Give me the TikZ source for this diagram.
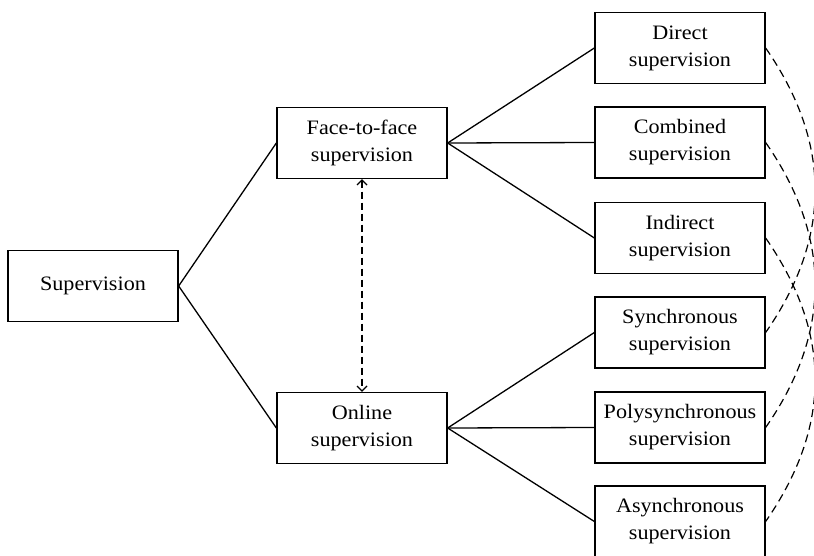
\documentclass[tikz,border=0pt]{standalone}
\usepackage{fontspec}
\setmainfont{Liberation Serif}[FakeStretch=1.08]
\usetikzlibrary{arrows.meta,calc}
\begin{document}
\begin{tikzpicture}[x=1pt,y=-1pt,
  box/.style={draw, line width=1.3pt, minimum width=170pt, minimum height=71pt,
    align=center, inner sep=0pt, font=\fontsize{20.5}{27}\selectfont},
  link/.style={line width=1.3pt},
  dlink/.style={line width=1.2pt, dash pattern=on 8pt off 5pt},
  varrow/.style={line width=1.2pt, dash pattern=on 7pt off 4pt,
    {Straight Barb[length=5pt,width=10pt]}-{Straight Barb[length=5pt,width=10pt]}}]
\useasboundingbox (0,0) rectangle (814,556);
\clip (0,0) rectangle (814,556);
\node[box] (sup)  at (93,286)    {Supervision};
\node[box] (f2f)  at (362,143)   {Face-to-face\\supervision};
\node[box] (onl)  at (362,428)   {Online\\supervision};
\node[box] (dir)  at (680,48)    {Direct\\supervision};
\node[box] (comb) at (680,142.5) {Combined\\supervision};
\node[box] (ind)  at (680,238)   {Indirect\\supervision};
\node[box] (syn)  at (680,332.5) {Synchronous\\supervision};
\node[box] (poly) at (680,427.5) {Polysynchronous\\supervision};
\node[box] (asyn) at (680,521.5) {Asynchronous\\supervision};
\draw[link] (sup.east) -- (f2f.west);
\draw[link] (sup.east) -- (onl.west);
\foreach \t in {dir,comb,ind} \draw[link] (f2f.east) -- (\t.west);
\foreach \t in {syn,poly,asyn} \draw[link] (onl.east) -- (\t.west);
\draw[varrow] (f2f.south) -- (onl.north);
\draw[dlink] (dir.east) .. controls ($(dir.east)+(66,95)$) and ($(syn.east)+(66,-95)$) .. (syn.east);
\draw[dlink] (comb.east) .. controls ($(comb.east)+(66,95)$) and ($(poly.east)+(66,-95)$) .. (poly.east);
\draw[dlink] (ind.east) .. controls ($(ind.east)+(66,95)$) and ($(asyn.east)+(66,-95)$) .. (asyn.east);
\end{tikzpicture}
\end{document}
